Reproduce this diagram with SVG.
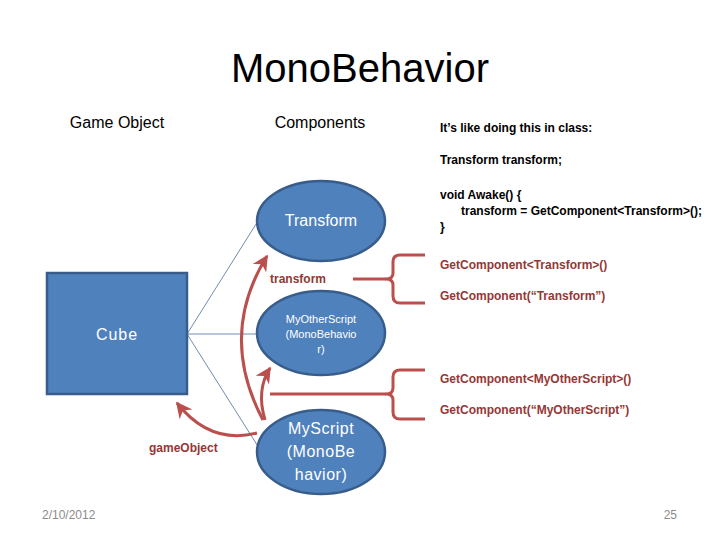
<svg xmlns="http://www.w3.org/2000/svg" width="720" height="540" viewBox="0 0 720 540">
<defs>
<style>
.t{font-family:"Liberation Sans",Arial,sans-serif;}
.node{fill:#4f81bd;stroke:#385d8a;stroke-width:2.5;}
.wt{fill:#ffffff;text-anchor:middle;}
.red{fill:#953735;font-weight:bold;}
.code{fill:#000000;font-weight:bold;font-size:12px;}
.conn{stroke:#4a6f9c;stroke-width:0.8;fill:none;}
.arc{stroke:#b9504d;stroke-width:3;fill:none;}
.brace{stroke:#b9504d;stroke-width:3;fill:none;stroke-linejoin:round;}
.foot{fill:#8c8c8c;font-size:12px;}
</style>
<marker id="ah" markerUnits="userSpaceOnUse" markerWidth="16" markerHeight="16" viewBox="0 0 10 10" refX="9" refY="5" orient="auto">
<path d="M0,0 L10,5 L0,10 L3,5 z" fill="#b9504d"/>
</marker>
</defs>
<rect width="720" height="540" fill="#ffffff"/>

<text class="t" x="360" y="82" font-size="40" text-anchor="middle" fill="#000">MonoBehavior</text>
<text class="t" x="117" y="128" font-size="16" text-anchor="middle" fill="#000">Game Object</text>
<text class="t" x="320" y="128" font-size="16" text-anchor="middle" fill="#000">Components</text>

<g id="code-text" class="t">
<text class="code" x="440" y="132">It’s like doing this in class:</text>
<text class="code" x="440" y="164">Transform transform;</text>
<text class="code" x="440" y="199">void Awake() {</text>
<text class="code" x="461" y="215">transform = GetComponent&lt;Transform&gt;();</text>
<text class="code" x="440" y="231">}</text>
</g>

<g id="connectors">
<line class="conn" x1="187" y1="334" x2="258" y2="221"/>
<line class="conn" x1="187" y1="334" x2="258" y2="334"/>
<line class="conn" x1="187" y1="334" x2="259" y2="448"/>
<path class="arc" d="M263,420 Q218,335 267,256" marker-end="url(#ah)"/>
<path class="arc" d="M265,420 Q256,390 270,368" marker-end="url(#ah)"/>
<path class="arc" d="M257,433 Q210,445 177,403" marker-end="url(#ah)"/>
<path class="brace" d="M425,255 L400,255 Q393,255 393,262 L393,273 Q393,279 386,279 Q393,279 393,285 L393,296 Q393,303 400,303 L425,303"/>
<line class="brace" x1="353" y1="279" x2="386" y2="279"/>
<path class="brace" d="M425,370 L400,370 Q393,370 393,377 L393,388 Q393,394 386,394 Q393,394 393,400 L393,412 Q393,419 400,419 L425,419"/>
<line class="brace" x1="270" y1="394" x2="386" y2="394"/>
</g>

<g id="cube">
<rect class="node" x="47" y="273" width="140" height="121"/>
<text class="t wt" x="117" y="340" font-size="16" letter-spacing="1">Cube</text>
</g>

<g id="transform-node">
<ellipse class="node" cx="321" cy="221" rx="64" ry="40"/>
<text class="t wt" x="321" y="226" font-size="16">Transform</text>
</g>

<g id="myotherscript-node">
<ellipse class="node" cx="321" cy="333" rx="64" ry="42"/>
<text class="t wt" x="321" y="323" font-size="11">MyOtherScript</text>
<text class="t wt" x="321" y="338" font-size="11">(MonoBehavio</text>
<text class="t wt" x="321" y="353" font-size="11">r)</text>
</g>

<g id="myscript-node">
<ellipse class="node" cx="321" cy="452" rx="64" ry="42"/>
<text class="t wt" x="321" y="434" font-size="16" letter-spacing="0.5">MyScript</text>
<text class="t wt" x="321" y="457" font-size="16" letter-spacing="0.5">(MonoBe</text>
<text class="t wt" x="321" y="480" font-size="16" letter-spacing="0.5">havior)</text>
</g>

<g id="labels" class="t">
<text class="red" x="270" y="283" font-size="12">transform</text>
<text class="red" x="149" y="452" font-size="12">gameObject</text>
<text class="red" x="440" y="269" font-size="12">GetComponent&lt;Transform&gt;()</text>
<text class="red" x="440" y="300" font-size="12">GetComponent(“Transform”)</text>
<text class="red" x="440" y="383" font-size="12">GetComponent&lt;MyOtherScript&gt;()</text>
<text class="red" x="440" y="414" font-size="12">GetComponent(“MyOtherScript”)</text>
</g>

<text class="t foot" x="42" y="519">2/10/2012</text>
<text class="t foot" x="677" y="519" text-anchor="end">25</text>
</svg>
